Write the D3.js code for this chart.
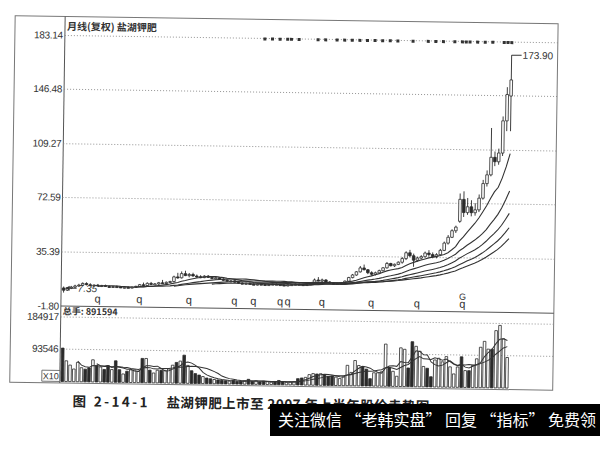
<!DOCTYPE html>
<html><head><meta charset="utf-8">
<script src="https://cdn.jsdelivr.net/npm/d3@7"></script>
<style>html,body{margin:0;padding:0;background:#fff;}svg{display:block;}</style>
</head><body>
<svg id="c" width="600" height="464"></svg>
<script>
// ---------------- DATA ----------------
const chartTitle = "月线(复权) 盐湖钾肥";
const volTitle = "总手: 891594";
const priceTicks = [-1.80, 35.39, 72.59, 109.27, 146.48, 183.14];
const volTicks = [93546, 184917];
const volUnit = "X10";
const maPeriods = [10, 20, 30, 40, 50];
const volMaPeriods = [5, 10];
const lowLabel = "7.35";
const highLabel = "173.90";
const captionNo = "图 2-14-1";
const captionText = "盐湖钾肥上市至 2007 年上半年股价走势图";
const bannerText = "关注微信 “老韩实盘” 回复 “指标” 免费领";

const openP = [10.5,9.0,10.5,11.2,12.0,12.6,13.8,13.0,12.4,12.8,12.2,12.6,12.0,11.6,12.0,11.8,11.3,11.6,11.4,11.8,
 12.3,13.5,13.0,14.5,13.9,14.2,15.0,14.6,15.4,16.0,19.2,18.6,21.5,20.2,21.0,20.0,19.6,19.0,20.0,19.2,
 18.6,19.0,18.0,17.4,16.8,17.1,16.2,15.6,15.2,15.5,15.0,14.8,15.1,14.9,14.6,14.9,15.2,15.0,14.7,14.5,
 14.8,15.1,15.4,15.2,14.9,15.3,16.4,18.5,18.0,18.6,17.3,16.5,16.2,16.4,17.0,18.0,20.5,22.3,24.5,27.2,
 26.0,24.0,23.0,24.0,25.5,27.5,30.5,29.0,30.0,31.5,34.0,38.0,36.0,33.0,34.5,35.5,38.0,37.0,35.5,37.0,
 40.0,45.0,49.0,53.5,60.0,75.0,66.0,70.0,66.0,68.0,76.0,86.0,92.0,104.0,101.0,107.0,129.0,146.0];
const highP = [11.5,11.0,12.0,12.8,13.5,14.5,14.6,14.0,13.2,13.6,13.0,13.2,12.6,12.4,12.8,12.3,12.0,12.2,12.0,12.8,
 14.0,15.0,15.2,15.5,14.8,15.6,17.0,16.0,16.5,20.0,22.0,23.0,23.5,22.0,22.2,21.0,20.6,20.6,20.8,19.8,
 19.5,19.4,18.8,18.0,17.6,17.5,16.8,16.2,16.0,16.2,15.6,15.5,15.8,15.4,15.2,15.6,15.8,15.5,15.3,15.1,
 15.4,15.9,16.0,15.8,15.6,16.8,19.5,20.5,19.5,19.2,17.8,17.0,16.8,17.2,18.5,21.0,23.0,25.0,28.5,29.5,
 26.5,25.0,24.8,26.2,28.0,31.5,31.0,30.5,32.0,35.0,39.0,40.0,37.5,35.5,36.5,39.0,40.0,38.5,38.0,41.0,
 46.0,50.5,54.5,57.0,79.0,80.5,76.0,74.5,72.5,78.5,88.5,95.0,124.0,108.0,110.0,132.0,152.0,173.9];
const lowP = [7.35,8.5,9.8,10.6,11.5,12.0,12.5,12.0,11.6,12.0,11.5,11.8,11.2,11.0,11.4,11.0,10.8,11.0,10.9,11.4,
 12.0,12.8,12.6,13.5,13.2,13.6,14.5,14.0,14.8,15.6,18.0,18.2,19.8,19.0,19.5,18.8,18.5,18.6,18.8,18.0,
 17.8,17.6,17.0,16.4,16.0,15.8,15.2,14.8,14.6,14.9,14.4,14.2,14.6,14.2,14.0,14.5,14.7,14.4,14.1,14.0,
 14.3,14.7,14.9,14.6,14.4,15.0,16.0,17.6,17.2,16.8,16.2,15.8,15.6,16.0,16.5,17.8,20.0,21.8,24.0,25.5,
 23.0,22.0,22.2,23.5,25.0,27.0,28.5,28.2,29.5,30.5,33.0,35.0,28.5,32.0,33.5,35.0,35.5,34.5,34.5,36.0,
 39.5,44.0,48.5,52.0,59.0,63.0,64.5,63.5,64.0,66.5,75.0,84.0,91.0,98.0,99.0,105.0,122.0,122.0];
const closeP = [9.0,10.5,11.2,12.0,12.6,13.8,13.0,12.4,12.8,12.2,12.6,12.0,11.6,12.0,11.8,11.3,11.6,11.4,11.8,12.3,
 13.5,13.0,14.5,13.9,14.2,15.0,14.6,15.4,16.0,19.2,18.6,21.5,20.2,21.0,20.0,19.6,19.0,20.0,19.2,18.6,
 19.0,18.0,17.4,16.8,17.1,16.2,15.6,15.2,15.5,15.0,14.8,15.1,14.9,14.6,14.9,15.2,15.0,14.7,14.5,14.8,
 15.1,15.4,15.2,14.9,15.3,16.4,18.5,18.0,18.6,17.3,16.5,16.2,16.4,17.0,18.0,20.5,22.3,24.5,27.2,26.0,
 24.0,23.0,24.0,25.5,27.5,30.5,29.0,30.0,31.5,34.0,38.0,36.0,33.0,34.5,35.5,38.0,37.0,35.5,37.0,40.0,
 45.0,49.0,53.5,56.0,75.0,66.0,70.0,66.0,68.0,76.0,86.0,92.0,104.0,101.0,107.0,129.0,147.0,157.0];
const volume = [95000,59000,47000,36000,55000,40000,36000,40000,63000,47000,43000,36000,47000,36000,61000,36000,24000,32000,36000,36000,
 32000,69000,69000,36000,28000,36000,36000,36000,40000,51000,59000,63000,80000,51000,36000,28000,24000,20000,16000,14000,
 12000,11000,10000,9000,8000,10000,7000,8000,9000,14000,8000,10000,7000,9000,8000,7000,9000,12000,8000,7000,
 8000,9000,18000,20000,22000,30000,33000,32000,33000,30000,26000,27000,24000,20000,25000,58000,38000,72000,58000,55000,
 48000,21000,38000,38000,41000,120000,53000,43000,29000,110000,106000,53000,128000,115000,101000,58000,53000,29000,77000,82000,
 72000,87000,58000,38000,58000,87000,48000,48000,63000,82000,115000,132000,110000,110000,163000,178000,140000,87000];
const infoMarks = [52,54,56,58,59,61,66,68,71,73,75,77,79,81,83,85,87,91,95,97,99,102,104,105,106,108,110,112,115,116,117];
const exRights = [9,20,33,45,50,57,59,68,81,93,105];
const gMark = 105;

// ---------------- LAYOUT ----------------
const n = closeP.length;
const idx = d3.range(n);
const L = 62, R = 555, T = 20, B = 386.5, SEP = 309.5, OL = 12;
const x = d3.scalePoint().domain(idx).range([64.5, 509]);
const yP = d3.scaleLinear().domain([-1.80, 183.14]).range([SEP, 38.5]);
const yV = d3.scaleLinear().domain([0, 184917]).range([385, 320]);
const ink = "#2a2a2a";
const numFont = "'Liberation Sans', Arial, sans-serif";
const cjkFont = "'Noto Sans CJK SC', sans-serif";

const svg = d3.select("#c");
svg.append("rect").attr("width", 600).attr("height", 464).attr("fill", "#fff");
const g = svg.append("g").attr("transform", "rotate(0.85,300,232)");

// frame
g.append("rect").attr("x", OL).attr("y", T).attr("width", R - OL).attr("height", B - T)
  .attr("fill", "none").attr("stroke", "#777").attr("stroke-width", 1);
g.append("line").attr("x1", L).attr("x2", L).attr("y1", T).attr("y2", B).attr("stroke", "#555");
g.append("line").attr("x1", L).attr("x2", R).attr("y1", SEP).attr("y2", SEP).attr("stroke", "#555");

// price axis + grid
const pAxis = g.append("g").attr("transform", `translate(${L},0)`)
  .call(d3.axisLeft(yP).tickValues(priceTicks).tickSize(0).tickPadding(2).tickFormat(d => d.toFixed(2)));
pAxis.select(".domain").remove();
pAxis.selectAll("text").attr("font-family", numFont).attr("font-size", 10).attr("fill", "#333").attr("letter-spacing", "-0.3");
const pGrid = g.append("g").attr("transform", `translate(${L},0)`)
  .call(d3.axisRight(yP).tickValues(priceTicks.filter(v => v > 0)).tickSize(R - L).tickFormat(""));
pGrid.select(".domain").remove();
pGrid.selectAll("line").attr("stroke", "#888").attr("stroke-dasharray", "1,2").attr("stroke-width", 0.9);

// volume axis + grid
const vAxis = g.append("g").attr("transform", `translate(${L},0)`)
  .call(d3.axisLeft(yV).tickValues(volTicks).tickSize(0).tickPadding(2).tickFormat(d => String(d)));
vAxis.select(".domain").remove();
vAxis.selectAll("text").attr("font-family", numFont).attr("font-size", 10).attr("fill", "#333").attr("letter-spacing", "-0.3");
const vGrid = g.append("g").attr("transform", `translate(${L},0)`)
  .call(d3.axisRight(yV).tickValues(volTicks).tickSize(R - L).tickFormat(""));
vGrid.select(".domain").remove();
vGrid.selectAll("line").attr("stroke", "#888").attr("stroke-dasharray", "1,2").attr("stroke-width", 0.9);

// X10 box
g.append("rect").attr("x", 44).attr("y", 374).attr("width", L - 44).attr("height", 11)
  .attr("fill", "#fff").attr("stroke", "#555").attr("stroke-width", 0.8);
g.append("text").attr("x", 53).attr("y", 383).attr("text-anchor", "middle").attr("font-family", numFont)
  .attr("font-size", 9).attr("fill", "#333").text(volUnit);

// titles
g.append("text").attr("x", 64).attr("y", 33.5).attr("font-family", cjkFont).attr("font-weight", 700)
  .attr("font-size", 10).attr("fill", "#333").text(chartTitle);
g.append("text").attr("x", 64).attr("y", 318).attr("font-family", cjkFont).attr("font-weight", 700)
  .attr("font-size", 9).attr("fill", "#333").text(volTitle);

// info marks row
g.append("g").selectAll("rect").data(infoMarks).join("rect")
  .attr("x", d => x(d) - 1.5).attr("y", 38).attr("width", 3).attr("height", 3).attr("fill", "#333");

// candles
const bw = 2.6;
const cg = g.append("g");
idx.forEach(i => {
  const up = closeP[i] >= openP[i];
  cg.append("line").attr("x1", x(i)).attr("x2", x(i)).attr("y1", yP(highP[i])).attr("y2", yP(lowP[i]))
    .attr("stroke", ink).attr("stroke-width", 0.9);
  const y0 = yP(Math.max(openP[i], closeP[i])), y1 = yP(Math.min(openP[i], closeP[i]));
  cg.append("rect").attr("x", x(i) - bw / 2).attr("y", y0).attr("width", bw).attr("height", Math.max(1, y1 - y0))
    .attr("fill", up ? "#fff" : ink).attr("stroke", ink).attr("stroke-width", 0.8);
});

// moving averages
function ma(arr, p) { return arr.map((v, i) => i < p - 1 ? null : d3.mean(arr.slice(i - p + 1, i + 1))); }
const line = d3.line().defined(d => d[1] != null).x(d => x(d[0])).y(d => d[1]);
maPeriods.forEach(p => {
  const m = ma(closeP, p);
  g.append("path").attr("d", line(idx.map(i => [i, m[i] == null ? null : yP(m[i])])))
    .attr("fill", "none").attr("stroke", "#333").attr("stroke-width", 1.1);
});

// volume bars
const vg = g.append("g");
idx.forEach(i => {
  const up = closeP[i] >= openP[i];
  vg.append("rect").attr("x", x(i) - bw / 2).attr("y", yV(volume[i])).attr("width", bw)
    .attr("height", yV(0) - yV(volume[i])).attr("fill", up ? "#fff" : ink).attr("stroke", ink).attr("stroke-width", 0.8);
});
volMaPeriods.forEach(p => {
  const m = ma(volume, p);
  g.append("path").attr("d", line(idx.map(i => [i, m[i] == null ? null : yV(m[i])])))
    .attr("fill", "none").attr("stroke", "#333").attr("stroke-width", 1);
});

// ex-rights markers
g.append("g").selectAll("text").data(exRights).join("text")
  .attr("x", d => x(d)).attr("y", 305.5).attr("text-anchor", "middle").attr("font-family", numFont)
  .attr("font-size", 11).attr("fill", "#333").text("q");
g.append("text").attr("x", x(gMark)).attr("y", 297.5).attr("text-anchor", "middle").attr("font-family", numFont)
  .attr("font-size", 9).attr("fill", "#333").text("G");

// low / high labels
const lowI = lowP.indexOf(d3.min(lowP)), highI = highP.indexOf(d3.max(highP));
const ly = yP(lowP[lowI]) - 4.5;
g.append("line").attr("x1", x(lowI) + 2).attr("x2", x(lowI) + 13).attr("y1", ly).attr("y2", ly).attr("stroke", "#333");
g.append("path").attr("d", `M${x(lowI) + 2},${ly} l4,-2.5 l0,5 z`).attr("fill", "#333");
g.append("text").attr("x", x(lowI) + 14).attr("y", ly + 3.5).attr("font-family", numFont).attr("font-size", 10)
  .attr("font-style", "italic").attr("fill", "#333").text(lowLabel);
const hy = yP(highP[highI]);
g.append("line").attr("x1", x(highI)).attr("x2", x(highI) + 10).attr("y1", hy).attr("y2", hy).attr("stroke", "#333");
g.append("text").attr("x", x(highI) + 11).attr("y", hy + 3.5).attr("font-family", numFont).attr("font-size", 10)
  .attr("fill", "#333").text(highLabel);

// caption
g.append("text").attr("x", 75).attr("y", 409.5).attr("font-family", cjkFont).attr("font-weight", 700)
  .attr("font-size", 13.5).attr("fill", "#222").attr("textLength", 75).attr("lengthAdjust", "spacing").text(captionNo);
g.append("text").attr("x", 169).attr("y", 409.5).attr("font-family", cjkFont).attr("font-weight", 700)
  .attr("font-size", 13.5).attr("fill", "#222").attr("textLength", 263).attr("lengthAdjust", "spacing").text(captionText);

// banner overlay (not rotated)
svg.append("rect").attr("x", 270).attr("y", 404).attr("width", 330).attr("height", 32).attr("fill", "#000");
svg.append("text").attr("x", 278).attr("y", 426).attr("font-family", cjkFont).attr("font-size", 16)
  .attr("fill", "#fff").attr("textLength", 318).attr("lengthAdjust", "spacingAndGlyphs").text(bannerText);
</script>
</body></html>
